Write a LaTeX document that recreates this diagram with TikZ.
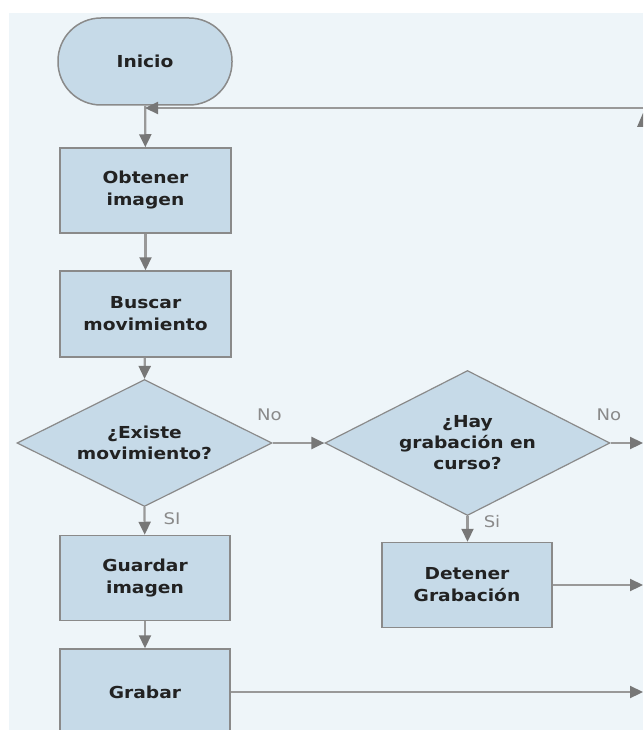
\documentclass[tikz,border=0pt]{standalone}
\usepackage{fontspec}
\newfontfamily\nf{DejaVu Sans}[FakeStretch=1.13]
\usetikzlibrary{shapes.geometric,arrows.meta}
\definecolor{bgc}{HTML}{EEF5F9}
\definecolor{boxc}{HTML}{C6DAE8}
\definecolor{edgec}{HTML}{8A8A8A}
\definecolor{linec}{HTML}{999999}
\definecolor{arrc}{HTML}{777777}
\definecolor{txtc}{HTML}{222222}
\definecolor{lblc}{HTML}{8A8A8A}
\tikzset{
  proc/.style={draw=edgec, line width=1.5pt, fill=boxc, rectangle, minimum width=170pt, minimum height=85pt, align=center, inner sep=0pt, text=txtc, font=\nf\bfseries\fontsize{16.5}{22}\selectfont},
  term/.style={proc, rounded corners=43pt, minimum width=174pt, minimum height=87pt},
  dec/.style={draw=edgec, line width=1.2pt, fill=boxc, diamond, aspect=2, inner sep=0pt, align=center, text=txtc, font=\nf\bfseries\fontsize{16.5}{21}\selectfont},
  conn/.style={draw=linec, line width=2.2pt, -{Triangle[length=13pt,width=12pt,color=arrc]}},
  lbl/.style={text=lblc, inner sep=0pt, font=\nf\fontsize{16}{19}\selectfont}
}
\begin{document}
\begin{tikzpicture}[x=1pt,y=-1pt]
\useasboundingbox (0,0) rectangle (643,730);
\fill[bgc] (9,13) rectangle (643,730);
\begin{scope}
\clip (0,0) rectangle (643,730);
\node[term] (ini) at (145,61.5) {Inicio};
\node[proc, minimum width=171pt] (obt) at (145.5,190.5) {Obtener\\imagen};
\node[proc, minimum width=171pt, minimum height=86pt] (bus) at (145.5,314) {Buscar\\movimiento};
\node[dec, minimum width=255pt, minimum height=127pt] (d1) at (144.5,443) {¿Existe\\movimiento?};
\node[dec, minimum width=285pt, minimum height=145pt] (d2) at (467.5,443) {¿Hay\\grabación en\\curso?};
\node[proc] (gua) at (145,578) {Guardar\\imagen};
\node[proc, minimum height=86pt] (gra) at (145,692) {Grabar};
\node[proc] (det) at (467,585) {Detener\\Grabación};

\coordinate (rtop) at (643,108);
\coordinate (rd2) at (643,443);
\coordinate (rdet) at (643,585);
\coordinate (rgra) at (643,692);

\draw[conn] (ini) -- (obt);
\draw[conn] (rtop) -- (rtop -| ini.south);
\draw[conn] (obt) -- (bus);
\draw[conn] (bus) -- (d1.north);
\draw[conn] (d1.east) -- (d2.west);
\draw[conn] (d2.east) -- (rd2);
\draw[conn] (d1.south) -- (gua);
\draw[conn] (d2.south) -- (det.north -| d2.south);
\draw[conn] (gua) -- (gra);
\draw[conn] (det.east) -- (rdet);
\draw[conn] (gra.east |- rgra) -- (rgra);

\node[lbl] (no1) at (269.5,415) {No};
\node[lbl] (si1) at (172,519) {SI};
\node[lbl] (no2) at (609,415) {No};
\node[lbl] (si2) at (492,522) {Si};

\fill[arrc] (643,113) -- (637,127) -- (643,127) -- cycle;
\end{scope}
\end{tikzpicture}
\end{document}
